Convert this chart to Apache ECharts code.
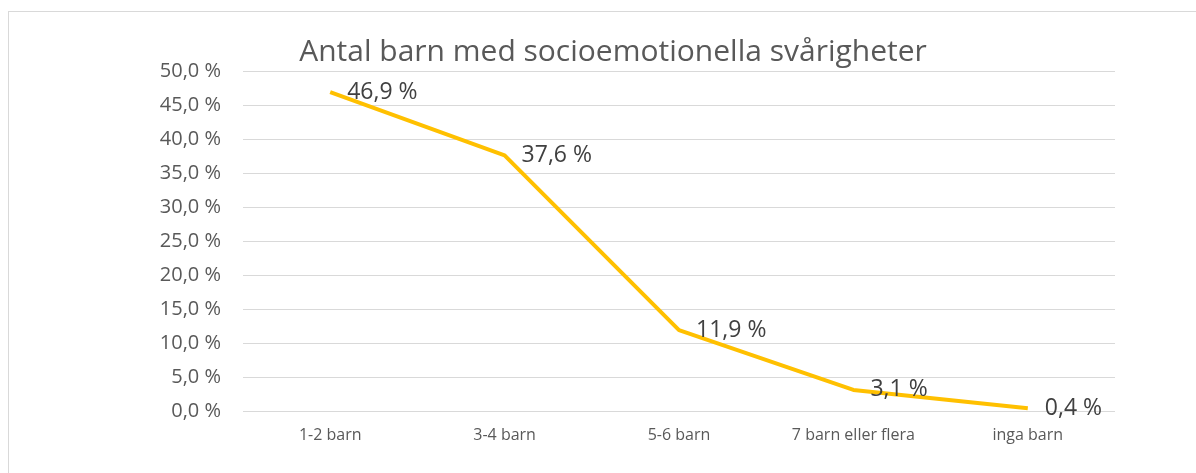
<!DOCTYPE html>
<html>
<head>
    <meta charset="UTF-8">
    <title>barn</title>
    <script src="https://cdn.jsdelivr.net/npm/echarts@6/dist/echarts.min.js"></script>
    <style>
        *{margin:0;padding:0}
        html,body{width:100%;height:100%;background:#fff;overflow:hidden}
        #frame{
            position:absolute;left:8px;top:11px;
            width:1400px;height:600px;
            border:1px solid #d9d9d9;
        }
        #main{position:absolute;left:0;top:0;width:1196px;height:473px}
    </style>
</head>
<body>
    <div id="frame"></div>
    <div id="main"></div>

    <script type="text/javascript">
        var categories = ['1-2 barn', '3-4 barn', '5-6 barn', '7 barn eller flera', 'inga barn'];
        var values = [46.9, 37.6, 11.9, 3.1, 0.4];
        var titleText = 'Antal barn med socioemotionella svårigheter';

        var fmt = function (v) {
            return v.toFixed(1).replace('.', ',') + ' %';
        };

        var myChart = echarts.init(document.getElementById('main'));
        var option = {
            animation: false,
            title: {
                text: titleText,
                left: 608,
                textAlign: 'center',
                top: 32,
                textStyle: {
                    fontFamily: 'Open Sans',
                    fontWeight: 'normal',
                    fontSize: 30,
                    color: '#595959'
                }
            },
            grid: {
                left: 243,
                right: 81,
                top: 71,
                bottom: 62
            },
            xAxis: {
                type: 'category',
                data: categories,
                boundaryGap: true,
                axisLine: {show: false},
                axisTick: {show: false},
                axisLabel: {
                    fontFamily: 'Open Sans',
                    fontSize: 16,
                    color: '#595959',
                    margin: 16
                }
            },
            yAxis: {
                type: 'value',
                min: 0,
                max: 50,
                interval: 5,
                axisLine: {show: false},
                axisTick: {show: false},
                splitLine: {lineStyle: {color: '#d9d9d9', width: 1}},
                axisLabel: {
                    fontFamily: 'Open Sans',
                    fontSize: 20,
                    color: '#595959',
                    margin: 22,
                    formatter: function (v) { return fmt(v); }
                }
            },
            series: [
                {
                    type: 'line',
                    data: values,
                    symbol: 'circle',
                    symbolSize: 2,
                    showSymbol: true,
                    itemStyle: {color: 'rgba(255,192,0,0)', borderWidth: 0},
                    lineStyle: {color: '#FFC000', width: 4},
                    label: {
                        show: true,
                        position: 'right',
                        distance: 16,
                        fontFamily: 'Open Sans',
                        fontSize: 23,
                        color: '#404040',
                        formatter: function (p) { return fmt(p.value); }
                    }
                }
            ]
        };
        myChart.setOption(option);
    </script>
</body>
</html>
